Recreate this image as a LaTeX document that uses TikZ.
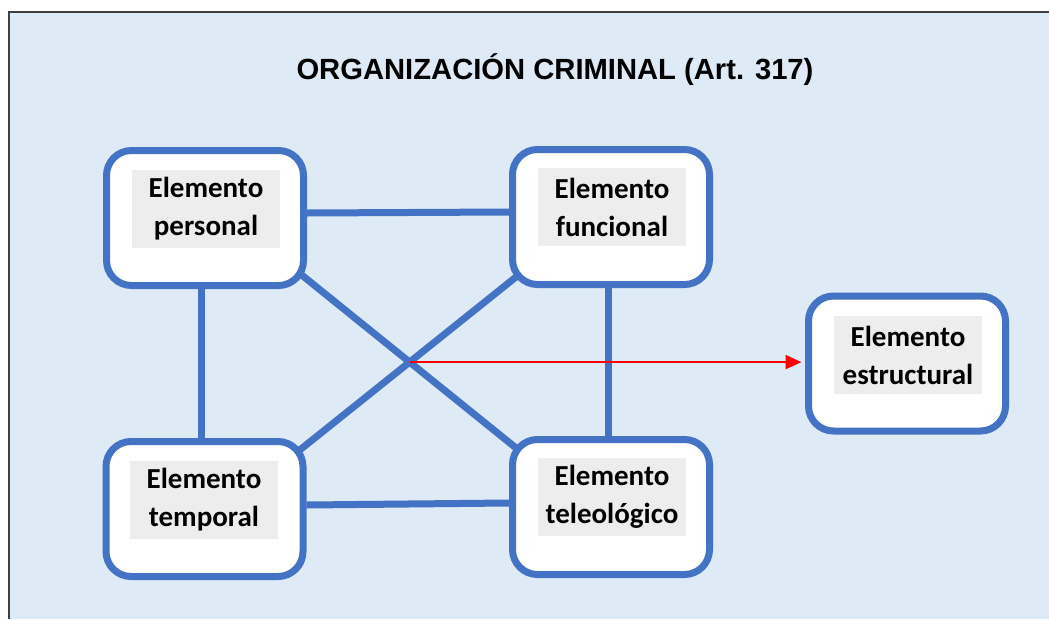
\documentclass[tikz,border=0pt]{standalone}
\usepackage{fontspec}
\setmainfont{Carlito}
\newfontfamily\titlefont{Liberation Sans}
\usetikzlibrary{arrows.meta,calc,intersections}
\definecolor{bgblue}{HTML}{DEEAF6}
\definecolor{boxblue}{HTML}{4472C4}
\definecolor{labelgray}{HTML}{EDEDED}
\definecolor{framegray}{HTML}{404040}
\pgfdeclarelayer{bg}
\pgfsetlayers{bg,main}
\tikzset{
  elbox/.style={draw=boxblue, line width=7pt, fill=white, rounded corners=25pt,
    minimum width=197pt, minimum height=135pt, inner sep=0pt},
  ellabel/.style={fill=labelgray, text width=148pt, align=center, minimum height=78pt,
    inner sep=0pt, font=\bfseries\fontsize{29}{38}\selectfont},
  link/.style={draw=boxblue, line width=7pt},
  redarrow/.style={draw=red, line width=2pt, -{Triangle[length=16pt,width=14pt]}, fill=red}
}
\begin{document}
\begin{tikzpicture}[x=1pt,y=-1pt]
\useasboundingbox (0,0) rectangle (1049,619);
% boxes
\node[elbox] (p) at (205,218) {};
\node[elbox] (f) at (611,217) {};
\node[elbox] (t) at (204.5,509) {};
\node[elbox] (g) at (611,507) {};
\node[elbox] (e) at (907,363.5) {};
% labels
\node[ellabel] (lp) at (206,209) {Elemento\\personal};
\node[ellabel] (lf) at (612,207) {Elemento\\funcional};
\node[ellabel] (lt) at (204,500) {Elemento\\temporal};
\node[ellabel] (lg) at (612,497) {Elemento\\teleológico};
\node[ellabel] (le) at (908,355) {Elemento\\estructural};
% title
\node[font=\titlefont\bfseries\fontsize{29.2}{35}\selectfont] (title) at (555,70) {ORGANIZACIÓN CRIMINAL (Art. 317)};
\begin{pgfonlayer}{bg}
  \fill[bgblue] (9,12) rectangle (1049,619);
  \draw[framegray, line width=1.5pt] (9,619) -- (9,12) -- (1049,12);
  \draw[link] ([yshift=5pt]p.east) -- ([yshift=5pt]f.west);
  \draw[link] ([yshift=4pt]t.east) -- ([yshift=4pt]g.west);
  \draw[link] ([xshift=-4pt]p.south) -- ([xshift=-4pt]p.south |- t.north);
  \draw[link] ([xshift=-3pt]f.south) -- ([xshift=-3pt]f.south |- g.north);
  \draw[link, name path=d1] ($(p.south east)+(-14,-21)$) -- ($(g.north west)+(17,20)$);
  \draw[link, name path=d2] ($(f.south west)+(17,-19)$) -- ($(t.north east)+(-13,17)$);
  \path[name intersections={of=d1 and d2, by=x}];
\end{pgfonlayer}
\draw[redarrow] (x) -- ([xshift=-3.5pt]x -| e.west);
\end{tikzpicture}
\end{document}
